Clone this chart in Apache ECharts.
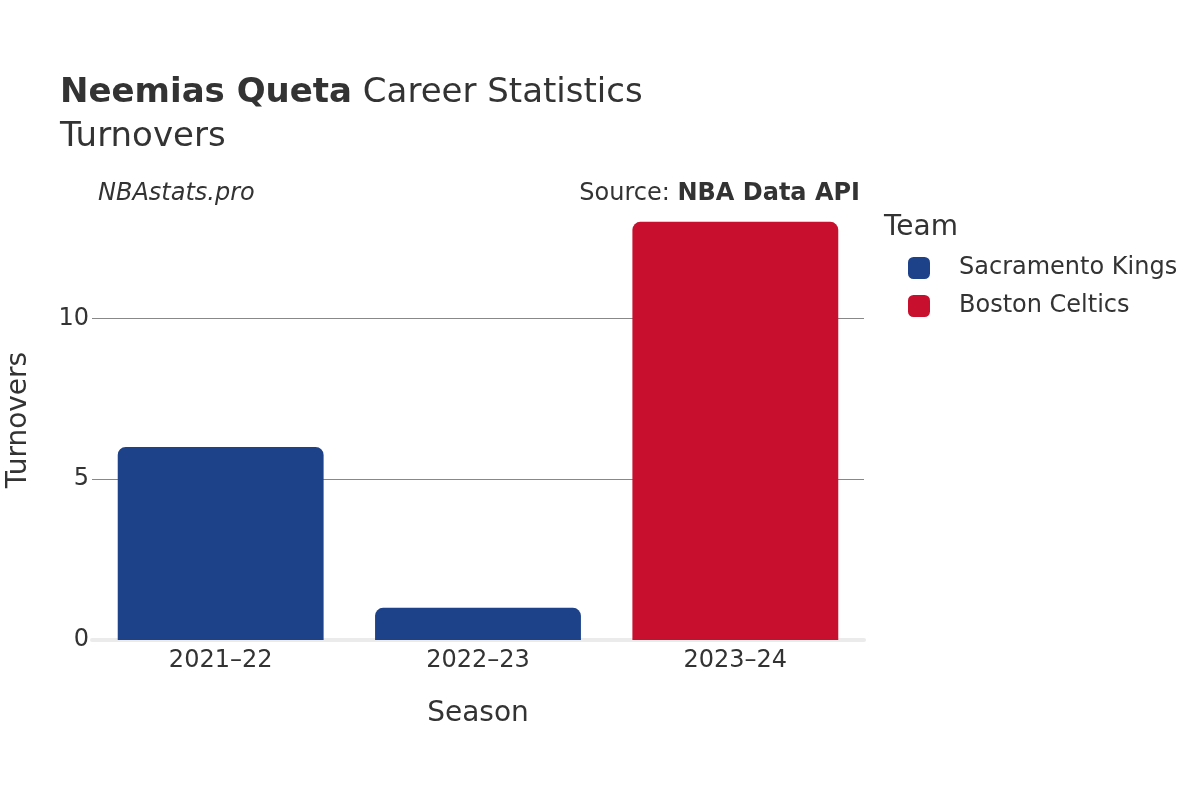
<!DOCTYPE html>
<html><head><meta charset="utf-8">
<script src="https://cdn.jsdelivr.net/npm/echarts@6/dist/echarts.min.js"></script>
<style>html,body{margin:0;padding:0;background:#fff}#c{width:1200px;height:800px}</style>
</head><body><div id="c"></div>
<script>
const seasons = ['2021–22', '2022–23', '2023–24'];
const teams = ['Sacramento Kings', 'Boston Celtics'];
const teamColors = ['#1d428a', '#c8102e'];
const kingsValues = [6, 1, null];
const celticsValues = [null, null, 13];
const yTicks = [0, 5, 10];

const F = 'DejaVu Sans, sans-serif';
const chart = echarts.init(document.getElementById('c'), null, {renderer: 'canvas'});
const seriesData = [kingsValues, celticsValues];
chart.setOption({
  animation: false,
  textStyle: {fontFamily: F},
  title: {
    left: 55, top: 66,
    text: '{b|Neemias Queta} Career Statistics\nTurnovers',
    textStyle: {
      fontFamily: F, fontSize: 34, color: '#333', fontWeight: 'normal', lineHeight: 44,
      rich: {b: {fontFamily: F, fontSize: 34, fontWeight: 'bold', color: '#333', lineHeight: 44}}
    }
  },
  legend: {
    orient: 'vertical', left: 903, top: 251,
    itemWidth: 22, itemHeight: 22, itemGap: 14,
    icon: 'roundRect',
    textStyle: {fontFamily: F, fontSize: 24, color: '#333', padding: [0, 0, 0, 24]},
    data: teams
  },
  grid: {left: 92, right: 336, top: 200, bottom: 160, containLabel: false, outerBoundsMode: 'none'},
  xAxis: {
    type: 'category', data: seasons,
    axisLine: {show: true, lineStyle: {color: '#ebebeb', width: 4}},
    axisTick: {show: false},
    axisLabel: {fontFamily: F, fontSize: 24, color: '#333', margin: 9},
    name: 'Season', nameLocation: 'middle', nameGap: 60,
    nameTextStyle: {fontFamily: F, fontSize: 28, color: '#333'}
  },
  yAxis: {
    type: 'value', min: 0, max: 13.68, interval: 5,
    axisLine: {show: false}, axisTick: {show: false},
    axisLabel: {fontFamily: F, fontSize: 24, color: '#333', margin: 3,
      formatter: v => yTicks.includes(v) ? String(v) : ''},
    splitLine: {showMaxLine: false, lineStyle: {color: '#888', width: 1}},
    name: 'Turnovers', nameLocation: 'middle', nameGap: 59,
    nameTextStyle: {fontFamily: F, fontSize: 28, color: '#333'}
  },
  graphic: [
    {type: 'text', left: 98, top: 182, style: {text: 'NBAstats.pro', font: 'italic 24px ' + F, fill: '#333'}},
    {type: 'text', right: 340, top: 182, style: {
      text: '{n|Source: }{b|NBA Data API}',
      rich: {n: {fontFamily: F, fontSize: 24, fill: '#333', color: '#333'},
             b: {fontFamily: F, fontSize: 24, fontWeight: 'bold', fill: '#333', color: '#333'}}}},
    {type: 'text', left: 884, top: 214, style: {text: 'Team', font: '28px ' + F, fill: '#333'}}
  ],
  series: teams.map((t, i) => ({
    name: t, type: 'bar', stack: 'all',
    data: seriesData[i],
    barWidth: '80%',
    itemStyle: {color: teamColors[i], borderRadius: [8, 8, 0, 0]},
    z: 3
  }))
});
</script></body></html>
